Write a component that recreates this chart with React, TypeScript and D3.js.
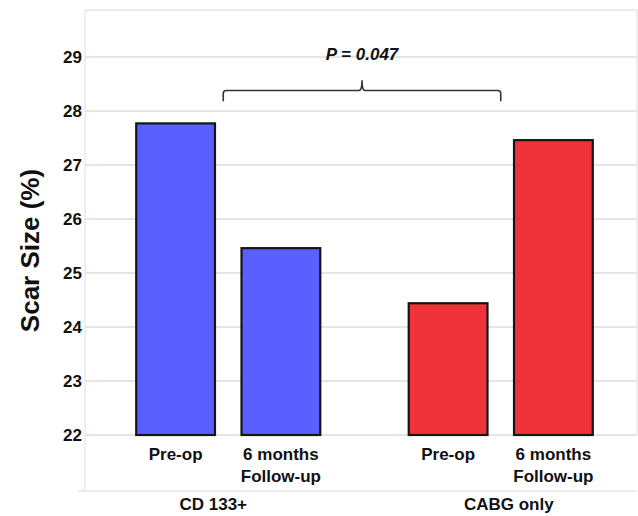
import React from "react";
import * as d3 from "d3";

const groups = ["CD 133+", "CABG only"];
const phases = ["Pre-op", "6 months Follow-up"];
const phaseLines = [["Pre-op"], ["6 months", "Follow-up"]];
const cd133Values = [27.77, 25.46];
const cabgValues = [24.44, 27.46];
const groupColors = ["#5a5fff", "#f0333a"];
const yTicks = [22, 23, 24, 25, 26, 27, 28, 29];
const pLabel = "P = 0.047";
const bracketLevel = 28.38;
const bracketEnd = 28.18;
const bracketTip = 28.57;
const pLevel = 28.94;

const W = 638;
const H = 516;
const FONT = "Arial, 'Liberation Sans', Helvetica, sans-serif";

export default function App() {
  const frame = { left: 85, right: 637, top: 10, bottom: 491 };
  const y = d3.scaleLinear().domain([22, 29.87]).range([435, 10]);
  const xGroup = d3.scaleBand<string>().domain(groups).range([92, 637]).padding(0);
  const xPhase = d3
    .scaleBand<string>()
    .domain(phases)
    .range([0, xGroup.bandwidth()])
    .paddingInner(0.252)
    .paddingOuter(0.42);

  const series = [cd133Values, cabgValues];
  const bars = groups.flatMap((g, gi) =>
    phases.map((p, pi) => ({ g, gi, p, pi, v: series[gi][pi] }))
  );

  const gc = (g: string) => (xGroup(g) as number) + xGroup.bandwidth() / 2;
  const bx0 = gc(groups[0]) - 5;
  const bx1 = gc(groups[1]);
  const bm = (bx0 + bx1) / 2;
  const by = y(bracketLevel);
  const byEnd = y(bracketEnd);
  const byTip = y(bracketTip);
  const r = 3;
  const bracketPath = [
    `M${bx0},${byEnd}`,
    `L${bx0},${by + r}`,
    `Q${bx0},${by} ${bx0 + r},${by}`,
    `L${bm - r},${by}`,
    `Q${bm},${by} ${bm},${byTip}`,
    `Q${bm},${by} ${bm + r},${by}`,
    `L${bx1 - r},${by}`,
    `Q${bx1},${by} ${bx1},${by + r}`,
    `L${bx1},${byEnd}`,
  ].join(" ");

  const groupLabelOffset = [-15, 8];

  return (
    <svg
      width={W}
      height={H}
      style={{ position: "absolute", left: 0, top: 0, background: "#fff" }}
      fontFamily={FONT}
    >
      <rect width={W} height={H} fill="#fff" />
      {/* gridlines */}
      {yTicks.map((t) => (
        <line
          key={t}
          x1={frame.left}
          x2={frame.right}
          y1={y(t)}
          y2={y(t)}
          stroke="#dcdcdc"
          strokeWidth={1.3}
        />
      ))}
      {/* frame */}
      <line x1={frame.left} x2={frame.right} y1={frame.top} y2={frame.top} stroke="#e6e6e6" strokeWidth={1.3} />
      <line x1={frame.left} x2={frame.left} y1={frame.top} y2={frame.bottom} stroke="#e6e6e6" strokeWidth={1.3} />
      <line x1={frame.right} x2={frame.right} y1={frame.top} y2={y(22)} stroke="#e6e6e6" strokeWidth={1.3} />
      <line x1={78} x2={frame.right} y1={frame.bottom} y2={frame.bottom} stroke="#e6e6e6" strokeWidth={1.3} />

      {/* y tick labels */}
      {yTicks.map((t) => (
        <text
          key={t}
          x={82}
          y={y(t)}
          dy="0.36em"
          textAnchor="end"
          fontSize={17}
          fontWeight="bold"
          fill="#111"
        >
          {t}
        </text>
      ))}

      {/* y title */}
      <text
        transform={`translate(39,${(y(22) + y(29.87)) / 2 + 28}) rotate(-90)`}
        textAnchor="middle"
        fontSize={26}
        fontWeight="bold"
        fill="#111"
      >
        Scar Size (%)
      </text>

      {/* bars */}
      {bars.map((b) => {
        const x0 = (xGroup(b.g) as number) + (xPhase(b.p) as number);
        return (
          <rect
            key={b.g + b.p}
            x={x0}
            y={y(b.v)}
            width={xPhase.bandwidth()}
            height={y(22) - y(b.v)}
            fill={groupColors[b.gi]}
            stroke="#151515"
            strokeWidth={2.2}
          />
        );
      })}

      {/* phase labels */}
      {bars.map((b) => {
        const cx = (xGroup(b.g) as number) + (xPhase(b.p) as number) + xPhase.bandwidth() / 2;
        return (
          <text
            key={"l" + b.g + b.p}
            x={cx}
            y={460}
            textAnchor="middle"
            fontSize={17}
            fontWeight="bold"
            fill="#111"
          >
            {phaseLines[b.pi].map((ln, i) => (
              <tspan key={i} x={cx} dy={i === 0 ? 0 : 22}>
                {ln}
              </tspan>
            ))}
          </text>
        );
      })}

      {/* group labels */}
      {groups.map((g, gi) => (
        <text
          key={g}
          x={gc(g) + groupLabelOffset[gi]}
          y={510}
          textAnchor="middle"
          fontSize={17}
          fontWeight="bold"
          fill="#111"
        >
          {g}
        </text>
      ))}

      {/* bracket */}
      <path d={bracketPath} fill="none" stroke="#333" strokeWidth={1.6} />
      <text
        x={bm}
        y={y(pLevel)}
        textAnchor="middle"
        fontSize={17}
        fontWeight="bold"
        fontStyle="italic"
        fill="#111"
      >
        {pLabel}
      </text>
    </svg>
  );
}
